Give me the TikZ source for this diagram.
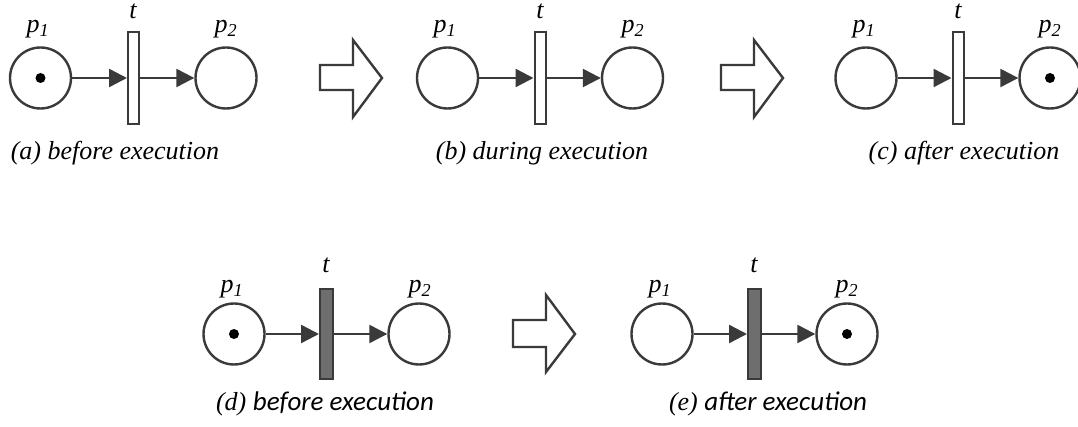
\documentclass[tikz,border=0pt]{standalone}
\usepackage{fontspec}
\setmainfont{Liberation Serif}
\newfontfamily\tms{Liberation Serif}
\newfontfamily\capsans{Carlito}
\usetikzlibrary{arrows.meta}
\definecolor{ln}{HTML}{3A3A3A}
\definecolor{tfill}{HTML}{6E6E6E}
\tikzset{
  place/.style={circle,draw=ln,line width=2.4pt,minimum size=61pt,inner sep=0pt,fill=white},
  token/.style={circle,fill=black,minimum size=10pt,inner sep=0pt},
  trans/.style={rectangle,draw=ln,line width=2pt,minimum width=11pt,minimum height=92pt,inner sep=0pt,fill=white},
  transf/.style={trans,fill=tfill,minimum width=13pt,minimum height=90pt},
  arc/.style={draw=ln,line width=2.4pt,-{Triangle[length=18pt,width=18pt]}},
  lab/.style={anchor=base,inner sep=0pt,font=\tms\fontsize{26}{30}\selectfont\itshape},
  captxt/.style={anchor=base,inner sep=0pt,font=\tms\fontsize{26}{30}\selectfont\itshape},
  bigarrow/.style={draw=ln,line width=2.4pt,fill=white,line join=miter}
}
\begin{document}
\begin{tikzpicture}[x=1pt,y=-1pt]
\useasboundingbox (0,0) rectangle (1078,427);
% ---------- (a)
\node[place] (a1) at (40.5,78) {};
\node[token] (a1k) at (a1.center) {};
\node[trans] (at) at (133.5,78) {};
\node[place] (a2) at (226,78) {};
\draw[arc] (a1) -- (at);
\draw[arc] (at) -- (a2);
\node[lab] (a1l) at (38,33) {p\textsubscript{1}};
\node[lab] (atl) at (133,19) {t};
\node[lab] (a2l) at (226,33) {p\textsubscript{2}};
\node[captxt] (acap) at (115,160) {(a) before execution};
% arrow 1
\draw[bigarrow] (320,65) -- (353,65) -- (353,40) -- (382,78) -- (353,117) -- (353,90) -- (320,90) -- cycle;
% ---------- (b)
\node[place] (b1) at (447.5,78) {};
\node[trans] (bt) at (540,78) {};
\node[place] (b2) at (632.5,78) {};
\draw[arc] (b1) -- (bt);
\draw[arc] (bt) -- (b2);
\node[lab] (b1l) at (445,33) {p\textsubscript{1}};
\node[lab] (btl) at (540,19) {t};
\node[lab] (b2l) at (633,33) {p\textsubscript{2}};
\node[captxt] (bcap) at (542,160) {(b) during execution};
% arrow 2
\draw[bigarrow] (721,65) -- (754,65) -- (754,40) -- (783,78) -- (754,117) -- (754,90) -- (721,90) -- cycle;
% ---------- (c)
\node[place] (c1) at (866,78) {};
\node[trans] (ct) at (958,78) {};
\node[place] (c2) at (1050,78) {};
\node[token] (c2k) at (c2.center) {};
\draw[arc] (c1) -- (ct);
\draw[arc] (ct) -- (c2);
\node[lab] (c1l) at (864,33) {p\textsubscript{1}};
\node[lab] (ctl) at (958,19) {t};
\node[lab] (c2l) at (1050,33) {p\textsubscript{2}};
\node[captxt] (ccap) at (964,160) {(c) after execution};
% ---------- (d)
\node[place] (d1) at (234,334) {};
\node[token] (d1k) at (d1.center) {};
\node[transf] (dt) at (326.5,334) {};
\node[place] (d2) at (419,334) {};
\draw[arc] (d1) -- (dt);
\draw[arc] (dt) -- (d2);
\node[lab] (d1l) at (232,293) {p\textsubscript{1}};
\node[lab] (dtl) at (326,273) {t};
\node[lab] (d2l) at (420,293) {p\textsubscript{2}};
\node[captxt] (dcap) at (325,410) {(d) {\capsans\fontsize{27}{30}\selectfont\itshape before execution}};
% arrow 3
\draw[bigarrow] (513,320) -- (546,320) -- (546,295) -- (575,334) -- (546,372) -- (546,347) -- (513,347) -- cycle;
% ---------- (e)
\node[place] (e1) at (662,334) {};
\node[transf] (et) at (754.5,334) {};
\node[place] (e2) at (847,334) {};
\node[token] (e2k) at (e2.center) {};
\draw[arc] (e1) -- (et);
\draw[arc] (et) -- (e2);
\node[lab] (e1l) at (660,293) {p\textsubscript{1}};
\node[lab] (etl) at (754,273) {t};
\node[lab] (e2l) at (847,293) {p\textsubscript{2}};
\node[captxt] (ecap) at (768,410) {(e) {\capsans\fontsize{27}{30}\selectfont\itshape after execution}};
\end{tikzpicture}
\end{document}
